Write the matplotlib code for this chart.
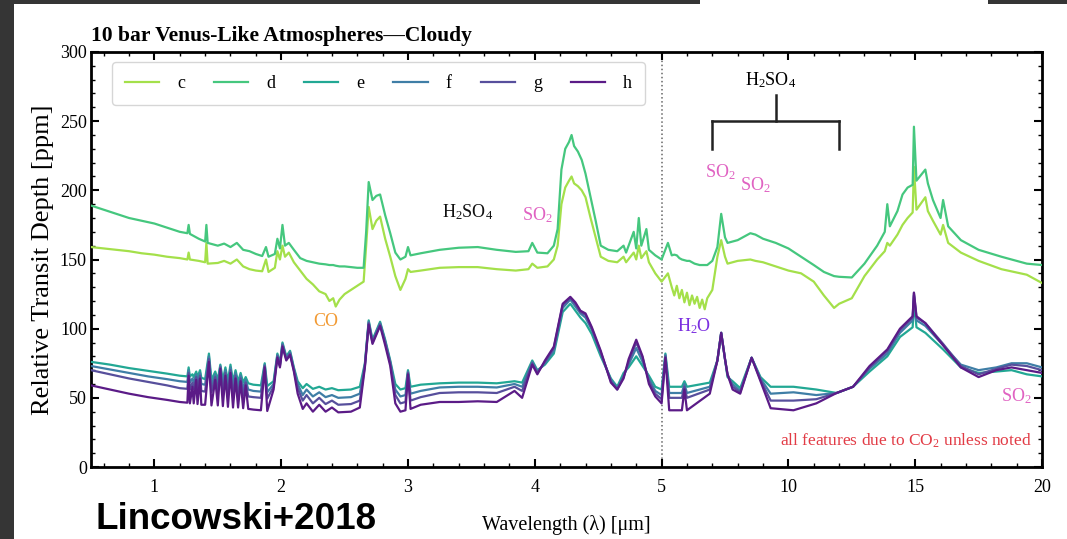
import numpy as np
import matplotlib
matplotlib.use("Agg")
import matplotlib.pyplot as plt
from matplotlib.patches import Rectangle

plt.rcParams['font.family'] = 'Liberation Serif'
plt.rcParams['mathtext.fontset'] = 'custom'
plt.rcParams['mathtext.rm'] = 'Liberation Serif'
plt.rcParams['mathtext.it'] = 'Liberation Serif:italic'
plt.rcParams['mathtext.bf'] = 'Liberation Serif:bold'

# ---- data (wavelength in um, depth in ppm) ----
# upper pair (c, d)
wl_up = [0.50, 0.60, 0.70, 0.80, 0.90, 1.00, 1.10, 1.20, 1.26, 1.27, 1.28, 1.35, 1.40, 1.41, 1.42,
         1.50, 1.55, 1.60, 1.65, 1.70, 1.75, 1.80, 1.85, 1.88, 1.90, 1.95, 1.97, 1.99, 2.01, 2.03,
         2.06, 2.10, 2.15, 2.20, 2.25, 2.30, 2.35, 2.38, 2.41, 2.43, 2.46, 2.50, 2.55, 2.60, 2.65,
         2.67, 2.69, 2.72, 2.75, 2.78, 2.82, 2.86, 2.90, 2.94, 2.98, 3.00, 3.02, 3.10, 3.25, 3.40,
         3.55, 3.70, 3.85, 3.95, 3.98, 4.02, 4.10, 4.15, 4.18, 4.21, 4.24, 4.27, 4.29, 4.31, 4.34,
         4.37, 4.40, 4.44, 4.48, 4.52, 4.58, 4.65, 4.70, 4.72, 4.78, 4.80, 4.82, 4.84, 4.88, 4.90,
         4.95, 5.00, 5.25, 5.40, 5.50, 5.60, 5.70, 5.80, 5.90, 6.00, 6.10, 6.20, 6.30, 6.40, 6.50,
         6.60, 6.70, 6.80, 7.00, 7.20, 7.35, 7.50, 7.60, 8.00, 8.50, 8.70, 9.00, 9.50, 10.00, 10.50,
         11.00, 11.40, 11.80, 12.00, 12.50, 13.00, 13.50, 13.80, 13.90, 14.00, 14.30, 14.50, 14.70, 14.90, 14.95,
         15.05, 15.40, 15.50, 15.70, 16.00, 16.10, 16.30, 16.80, 17.50, 18.40, 19.40, 20.00]
d_up = [189, 186, 183, 180, 178, 176, 173, 170, 169, 175, 168.5, 165, 163, 175, 162,
        160, 161.5, 159, 162, 157, 156, 154, 152.5, 159, 152, 154, 165, 158, 175, 160,
        162, 157, 151, 149, 148, 147, 146.5, 146, 146, 145.5, 145, 145, 144.5, 144, 144,
        170, 206, 193, 196, 197, 182, 169, 155, 150, 152, 159, 153, 154.5, 157, 158.5,
        159, 157, 155.5, 156, 162, 155, 154.5, 160, 172, 215, 230, 235, 240, 232, 228,
        222, 212, 195, 178, 160, 157, 156, 160, 155, 170, 158, 180, 160, 172, 157,
        153, 150, 162, 153, 153.5, 153, 151, 150, 149.5, 149, 149, 148, 147, 146.5, 146,
        146, 146, 146, 149, 159, 183, 166, 162, 164, 169, 168, 165, 162, 158, 152,
        146, 141, 138, 137.5, 137, 147, 160, 170, 190, 174, 185, 197, 202, 204, 246,
        207, 215, 205, 193, 180, 193, 174, 164, 157, 152, 147, 146]
c_up = [159, 158, 157, 156, 154.5, 153.5, 152, 151, 150, 155, 150, 149, 148, 162, 147,
        147.5, 149, 147, 150, 145, 143, 142, 141.5, 150, 141, 144, 156, 150, 160, 152,
        155, 148, 142, 136, 132, 127, 125, 120, 122, 116, 121, 125, 128, 131, 134,
        160, 188, 172, 178, 181, 165, 152, 138, 128, 136, 143, 141, 142, 144, 144.5,
        144.5, 143, 142, 143, 147, 144, 145, 150, 160, 190, 202, 207, 210, 205, 203,
        200, 195, 180, 166, 152, 149, 148, 152, 148, 155, 150, 160, 151, 156, 148,
        140, 134, 140, 130, 124, 131, 122, 128, 119, 126, 117, 124, 118, 123, 115,
        121, 114, 122, 128, 152, 164, 152, 147, 149, 150, 149, 148, 145, 142, 140,
        134, 124, 115, 118, 122, 138, 150, 156, 162, 160, 168, 175, 180, 184, 217,
        186, 195, 185, 178, 168, 175, 162, 155, 149, 143, 139, 133]

# lower four (e, f, g, h), in three wavelength pieces
wl_lo_a = [0.50, 0.65, 0.80, 0.95, 1.10, 1.20]
e_lo_a = [76, 74, 71.5, 69.5, 67.5, 66]
f_lo_a = [73, 70.5, 68, 65.5, 63.5, 62]
g_lo_a = [70, 67, 64, 61.5, 59, 57]
h_lo_a = [59, 56, 53, 50.5, 48.5, 47]

wl_lo_b = [1.26, 1.27, 1.28, 1.30, 1.31, 1.33, 1.34, 1.36, 1.37, 1.40, 1.43, 1.45, 1.48, 1.50, 1.52,
           1.54, 1.56, 1.58, 1.60, 1.62, 1.64, 1.66, 1.68, 1.70, 1.72, 1.74, 1.78, 1.84, 1.87, 1.89]
e_lo_b = [65.5, 72, 65.5, 67, 65, 69, 65, 70, 64.5, 63.5, 82, 63, 69, 63, 74,
          62.5, 72, 62, 74, 61.5, 70, 61.5, 68, 61, 65, 60.5, 59.5, 59, 75, 58.5]
f_lo_b = [61.5, 70, 61, 64, 61, 67, 60.5, 68, 60, 59.5, 80, 59, 67, 59, 73,
          58, 70, 57.5, 72, 57, 68, 57, 66, 56.5, 63, 56, 55, 54.5, 74, 54]
g_lo_b = [56.5, 68, 56, 61, 56, 65, 55.5, 66, 55, 54.5, 78, 54, 65, 54, 72,
          53, 68, 52.5, 70, 52, 66, 52, 64, 51.5, 61, 51, 50.5, 50, 73, 49.5]
h_lo_b = [46.5, 66, 46, 58, 46, 63, 45.5, 64, 45, 45, 76, 44.5, 63, 44.5, 71,
          44, 66, 43.5, 68, 43, 64, 43, 62, 42.5, 59, 42, 41.5, 41, 72, 40.5]

wl_lo_c = [1.94, 1.97, 1.99, 2.01, 2.04, 2.07, 2.10, 2.13, 2.17, 2.20,
           2.25, 2.30, 2.35, 2.40, 2.45, 2.55, 2.62, 2.66, 2.69, 2.72,
           2.78, 2.82, 2.86, 2.90, 2.94, 2.98, 3.00, 3.02, 3.10, 3.25,
           3.40, 3.55, 3.70, 3.84, 3.90, 3.98, 4.02, 4.08, 4.15, 4.22,
           4.28, 4.32, 4.36, 4.40, 4.45, 4.52, 4.60, 4.65, 4.70, 4.74,
           4.80, 4.85, 4.90, 4.95, 5.00, 5.15, 5.30, 5.80, 5.90, 6.00,
           6.90, 7.20, 7.35, 7.50, 7.60, 7.80, 8.10, 8.55, 8.90, 9.30,
           10.20, 11.10, 11.90, 12.55, 13.20, 13.90, 14.40, 14.90, 14.95, 15.05,
           15.40, 16.10, 16.80, 17.50, 18.20, 18.80, 19.40, 20.00]
e_lo_c = [62, 82, 75, 90, 80, 84, 72, 62, 57, 60,
          56.5, 58, 56, 57, 55.5, 56, 58, 75, 106, 92,
          105, 92, 77, 60, 56, 57, 70, 58, 59.5, 60.5,
          61, 61, 60.5, 62, 61, 77, 70, 74, 82, 112,
          118, 113, 108, 104, 96, 80, 64, 58, 68, 72,
          80, 73, 66, 58, 56, 82, 58, 58, 62, 58,
          61, 77, 97, 78, 65, 62, 57, 79, 65, 58,
          58, 56, 53.5, 58, 69, 80, 94, 101, 120, 101,
          97, 85, 72, 68, 69, 70, 67, 65.5]
f_lo_c = [60, 81, 74, 89, 79, 83, 71, 60, 52, 56,
          51, 54, 50.5, 52, 50, 50.5, 53, 74, 105, 91,
          104, 91, 76, 56, 51, 52, 69, 53, 55, 57.5,
          58, 58, 57.5, 60, 58, 76, 69, 75, 84, 115,
          121, 116, 111, 108, 99, 82, 63, 57, 66, 74,
          86, 76, 64, 55, 52, 81, 53.5, 53.5, 60, 53.5,
          58, 77, 97, 78, 66, 60, 55, 79, 64, 53,
          54, 52, 53.5, 58, 71, 82, 97, 106, 124, 106,
          102, 88, 74, 70, 72, 75, 75, 72]
g_lo_c = [58, 80, 73, 88, 78, 82, 70, 57, 48, 52,
          46, 50, 45.5, 48, 45, 45.5, 48, 73, 104, 90,
          103, 90, 75, 52, 46, 47, 68, 48, 50.5, 53.5,
          54, 54, 53.5, 58, 55, 75, 68, 76, 86, 117,
          122, 118, 112, 110, 100, 83, 62, 56, 65, 76,
          90, 79, 62, 53, 49, 80, 50, 50, 58, 50,
          56, 77, 97, 78, 67, 58, 54, 79, 63, 48,
          48, 49, 53.5, 58, 72, 84, 99, 108, 126, 108,
          104, 89, 73, 67, 71, 74, 73, 70]
h_lo_c = [56, 79, 72, 87, 77, 81, 69, 53, 42, 46,
          40, 45, 40, 43, 39.5, 40, 43, 72, 103, 89,
          102, 88, 73, 46, 40, 41, 67, 42, 45, 47,
          47, 47.5, 47, 55, 50, 74, 67, 77, 87, 118,
          123, 119, 113, 111, 101, 84, 61, 56, 64, 78,
          92, 80, 60, 51, 46, 79, 41, 41, 56, 41,
          53, 77, 97, 78, 67, 56, 53, 79, 62, 42.5,
          41, 46, 53.5, 58, 73, 85, 100, 109, 126, 109,
          104, 88, 72, 65, 70, 72, 70, 68]

wl_lo = wl_lo_a + wl_lo_b + wl_lo_c
e_lo = e_lo_a + e_lo_b + e_lo_c
f_lo = f_lo_a + f_lo_b + f_lo_c
g_lo = g_lo_a + g_lo_b + g_lo_c
h_lo = h_lo_a + h_lo_b + h_lo_c

names = ['c', 'd', 'e', 'f', 'g', 'h']
colors = ['#a4e04a', '#45c77e', '#22a894', '#3f7ea6', '#574f9c', '#5b1b87']
xticks = [1, 2, 3, 4, 5, 10, 15, 20]


def fwd(x):
  x = np.asarray(x, dtype=float)
  return np.where(x <= 5, x, 5 + (x - 5) / 5.)


def inv(u):
  u = np.asarray(u, dtype=float)
  return np.where(u <= 5, u, 5 + (u - 5) * 5.)


fig = plt.figure(figsize=(10.67, 5.39), dpi=100)
# slide border left/top
fig.add_artist(Rectangle((0, 0), 14/1067., 1, transform=fig.transFigure, color='#353535', lw=0))
fig.add_artist(Rectangle((0, 1-4/539.), 700/1067., 4/539., transform=fig.transFigure, color='#353535', lw=0))
fig.add_artist(Rectangle((988/1067., 1-4/539.), 1, 4/539., transform=fig.transFigure, color='#353535', lw=0))

ax = fig.add_axes([91/1067., 72/539., 951/1067., 415/539.])
ax.set_xscale('function', functions=(fwd, inv))

series = [(wl_up, c_up), (wl_up, d_up), (wl_lo, e_lo), (wl_lo, f_lo), (wl_lo, g_lo), (wl_lo, h_lo)]
for i, (wl, val) in enumerate(series):
  ax.plot(wl, val, color=colors[i], lw=1.6, label=names[i], zorder=3+i)

ax.axvline(5, color='#666666', ls=':', lw=1.1, zorder=1)

ax.set_xlim(0.5, 20)
ax.set_ylim(0, 300)
ax.set_xticks(xticks)
ax.set_xticklabels([str(t) for t in xticks])
minor = [v/10. for v in range(6, 50, 2) if v % 10 != 0] + [6, 7, 8, 9, 11, 12, 13, 14, 16, 17, 18, 19]
ax.set_xticks(minor, minor=True)
ax.set_yticks(range(0, 301, 50))
ax.set_yticks(range(0, 301, 10), minor=True)
ax.tick_params(which='both', direction='in', top=True, right=True, labelsize=13)
ax.tick_params(which='major', length=6, width=1.5)
ax.tick_params(which='minor', length=3, width=1.0)
ax.tick_params(axis='x', pad=9)
ax.tick_params(axis='y', pad=3)
for s in ax.spines.values():
  s.set_linewidth(2)

ax.set_xlabel('Wavelength (\u03bb) [\u03bcm]', fontsize=14.5, labelpad=13)
ax.set_ylabel('Relative Transit Depth [ppm]', fontsize=19, labelpad=4)
ax.set_title('10 bar Venus-Like Atmospheres\u2014Cloudy', fontsize=15.5, fontweight='bold', loc='left', pad=8)

leg = ax.legend(loc='upper left', bbox_to_anchor=(0.022, 0.975), borderaxespad=0, ncol=6, fontsize=13,
                handlelength=1.9, handletextpad=1.0, columnspacing=1.6, frameon=True, fancybox=True,
                borderpad=0.7)
leg.get_frame().set_edgecolor('#cccccc')
leg.get_frame().set_linewidth(1.0)

# annotations
pink = '#e062c2'
ax.text(9.3, 280, r'H$_2$SO$_4$', fontsize=13, ha='center', va='center')
ax.plot([9.5, 9.5], [250, 269], color='#222222', lw=1.8)
ax.plot([7, 12], [250, 250], color='#222222', lw=1.8)
ax.plot([7, 7], [230, 250], color='#222222', lw=1.8)
ax.plot([12, 12], [230, 250], color='#222222', lw=1.8)
ax.text(7.3, 213, r'SO$_2$', fontsize=13, ha='center', va='center', color=pink)
ax.text(8.7, 204, r'SO$_2$', fontsize=13, ha='center', va='center', color=pink)
ax.text(3.47, 184, r'H$_2$SO$_4$', fontsize=13, ha='center', va='center', color='#111111')
ax.text(4.02, 182, r'SO$_2$', fontsize=13, ha='center', va='center', color=pink)
ax.text(2.35, 105, 'CO', fontsize=13, ha='center', va='center', color='#f29a33')
ax.text(6.3, 102, r'H$_2$O', fontsize=13, ha='center', va='center', color='#7b2fe0')
ax.text(19.0, 51, r'SO$_2$', fontsize=13, ha='center', va='center', color=pink)
ax.text(19.6, 19, r'all features due to CO$_2$ unless noted', fontsize=12.5, ha='right', va='center',
        color='#e23b45')

fig.text(95/1067., 2/539., 'Lincowski+2018', fontsize=26.5, fontweight='bold', family='Liberation Sans',
         ha='left', va='bottom')

fig.savefig('out.png', dpi=100)
